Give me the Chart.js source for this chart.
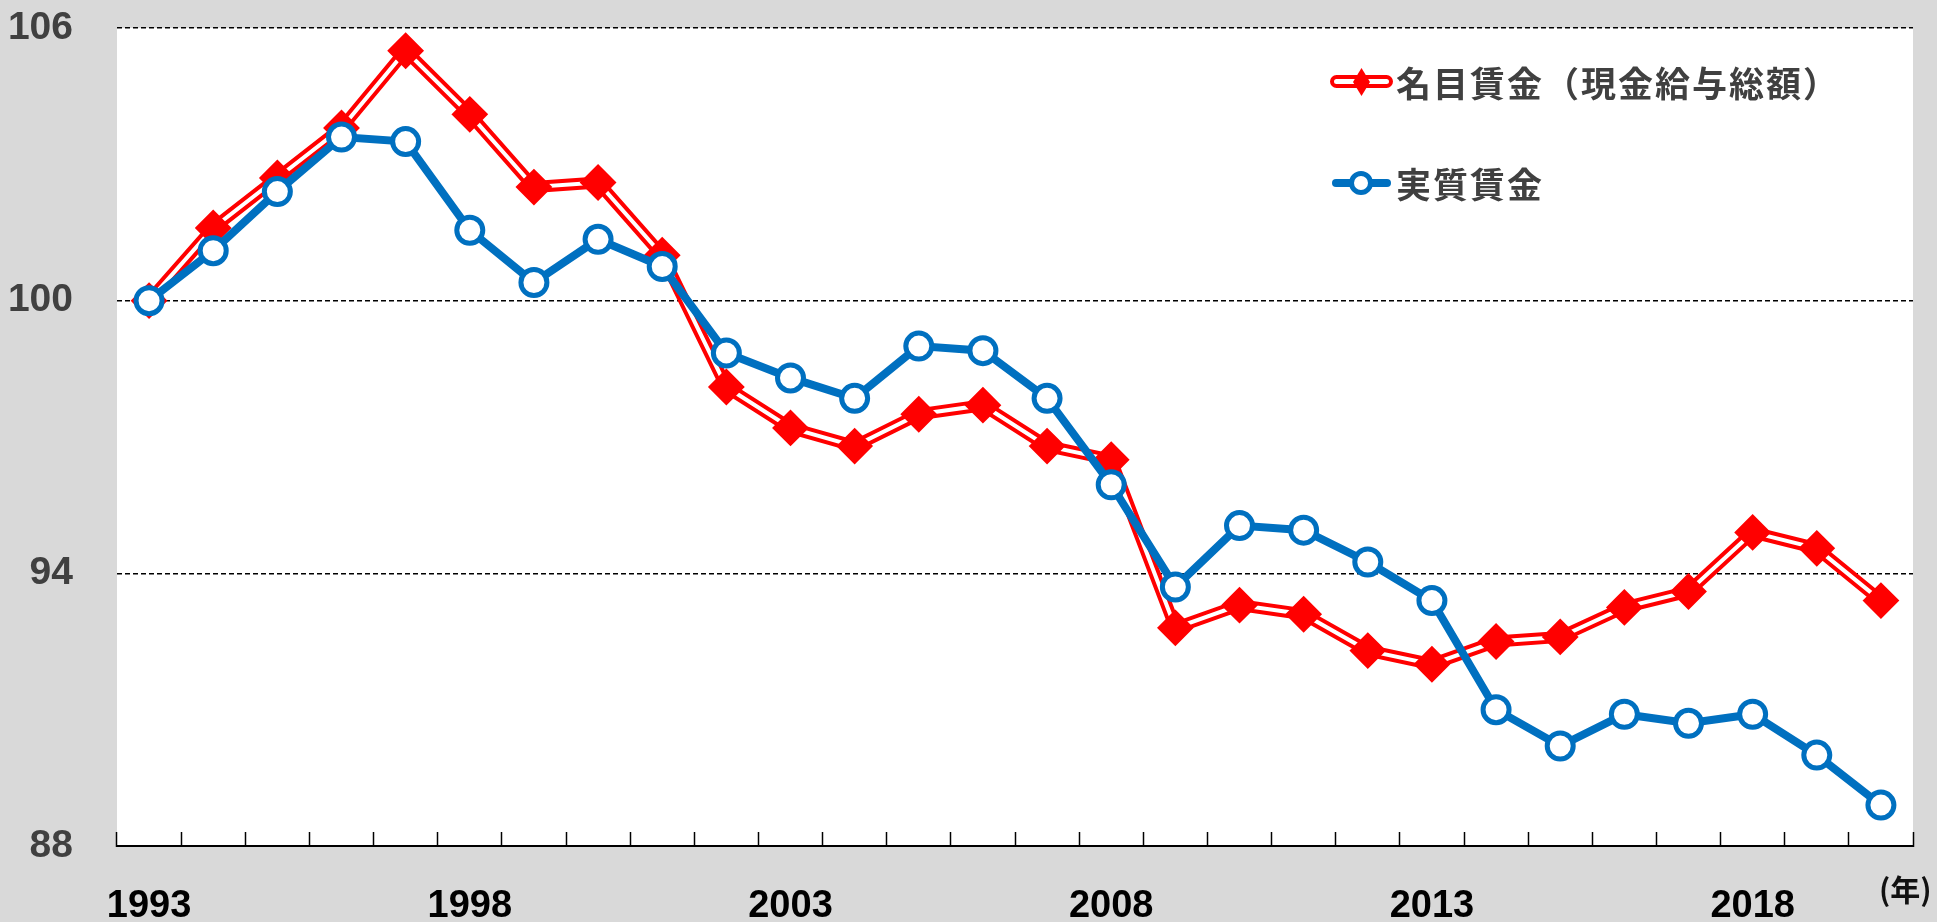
<!DOCTYPE html>
<html>
<head>
<meta charset="utf-8">
<script src="https://cdn.jsdelivr.net/npm/chart.js@4/dist/chart.umd.min.js"></script>
<style>
  body { margin: 0; background: #d9d9d9; }
  #wrap { position: relative; width: 1937px; height: 922px; }
  .leg { position: absolute; height: 50px; line-height: 50px; font-family: "Noto Sans CJK JP", sans-serif; font-weight: bold; font-size: 35px; letter-spacing: 2px; color: #404040; white-space: nowrap; }
  .sym { position: absolute; }
  #unit { position: absolute; left: 1879px; top: 866px; font-family: "Noto Sans CJK JP", sans-serif; font-weight: bold; font-size: 30px; color: #111; }
</style>
</head>
<body>
<div id="wrap">
  <canvas id="wageChart" width="1937" height="922"></canvas>

  <!-- 凡例 -->
  <div class="sym" style="left:1330px; top:75px; width:63px; height:13px; box-sizing:border-box; border:4.5px solid #ff0000; border-radius:7px; background:#fff;"></div>
  <div class="sym" style="left:1353px; top:68px; width:17px; height:28px; background:#ff0000; clip-path:polygon(50% 0,100% 50%,50% 100%,0 50%);"></div>
  <div class="leg" id="leg1" style="left:1396px; top:57px;"></div>

  <div class="sym" style="left:1332px; top:179px; width:59px; height:8px; border-radius:4px; background:#0070c0;"></div>
  <div class="sym" style="left:1349px; top:171px; width:24px; height:24px; box-sizing:border-box; border:5px solid #0070c0; border-radius:50%; background:#fff;"></div>
  <div class="leg" id="leg2" style="left:1396px; top:158px;"></div>

  <div id="unit">(年)</div>
</div>

<script>
// 年
const years = ['1993','1994','1995','1996','1997','1998','1999','2000','2001','2002',
               '2003','2004','2005','2006','2007','2008','2009','2010','2011','2012',
               '2013','2014','2015','2016','2017','2018','2019','2020'];
const shownYears = ['1993','1998','2003','2008','2013','2018'];

// 名目賃金（現金給与総額）
const nominalWage = [100, 101.6, 102.7, 103.8, 105.5, 104.1, 102.5, 102.6, 101.0, 98.1,
                     97.2, 96.8, 97.5, 97.7, 96.8, 96.5, 92.8, 93.3, 93.1, 92.3,
                     92.0, 92.5, 92.6, 93.25, 93.6, 94.9, 94.55, 93.4];
// 実質賃金
const realWage = [100, 101.1, 102.4, 103.6, 103.5, 101.55, 100.4, 101.35, 100.75, 98.85,
                  98.3, 97.85, 99.0, 98.9, 97.85, 95.95, 93.7, 95.05, 94.95, 94.25,
                  93.4, 91.0, 90.2, 90.9, 90.7, 90.9, 90.0, 88.9];

const yTicks = [88, 94, 100, 106];
const seriesNames = ['名目賃金（現金給与総額）', '実質賃金'];

document.getElementById('leg1').textContent = seriesNames[0];
document.getElementById('leg2').textContent = seriesNames[1];

// vùng vẽ màu trắng
const plotBg = {
    id: 'plotBg',
    beforeDraw(chart) {
        const a = chart.chartArea;
        const c = chart.ctx;
        c.save();
        c.fillStyle = '#ffffff';
        c.fillRect(a.left, a.top, a.right - a.left, a.bottom - a.top);
        c.restore();
    }
};

const ctx = document.getElementById('wageChart').getContext('2d');
const wageChart = new Chart(ctx, {
    type: 'line',
    data: {
        labels: years,
        datasets: [{
            label: seriesNames[1],
            data: realWage,
            order: 0,
            borderColor: '#0070c0',
            borderWidth: 8,
            pointRadius: 13,
            pointBorderWidth: 5,
            pointBackgroundColor: '#ffffff',
            pointBorderColor: '#0070c0',
            tension: 0
        }, {
            // đường trắng ở giữa + điểm hình thoi
            label: seriesNames[0],
            data: nominalWage,
            order: 1,
            borderColor: '#ffffff',
            borderWidth: 4,
            pointStyle: 'rectRot',
            pointRadius: 17,
            pointBorderWidth: 2,
            pointBackgroundColor: '#ff0000',
            pointBorderColor: '#ff0000',
            tension: 0
        }, {
            // viền đỏ
            label: seriesNames[0] + ' outline',
            data: nominalWage,
            order: 2,
            borderColor: '#ff0000',
            borderWidth: 12,
            pointRadius: 0,
            tension: 0
        }]
    },
    options: {
        responsive: false,
        animation: false,
        events: [],
        layout: { padding: { top: 28, right: 24, left: 0, bottom: 0 } },
        plugins: {
            legend: { display: false },
            tooltip: { enabled: false }
        },
        scales: {
            x: {
                offset: true,
                grid: {
                    offset: true,
                    drawOnChartArea: false,
                    drawTicks: true,
                    tickLength: -14,
                    tickColor: '#000000',
                    tickWidth: 1.5
                },
                border: { display: true, color: '#000000', width: 2 },
                ticks: {
                    autoSkip: false,
                    maxRotation: 0,
                    padding: 52,
                    color: '#000000',
                    font: { family: '"Liberation Sans", Arial, sans-serif', size: 38, weight: 'bold' },
                    callback: function (val, i) {
                        return shownYears.includes(years[i]) ? years[i] : '';
                    }
                },
                afterFit: function (scale) { scale.height = 76; }
            },
            y: {
                min: 88,
                max: 106,
                afterBuildTicks: function (scale) {
                    scale.ticks = yTicks.map(v => ({ value: v }));
                },
                grid: {
                    drawTicks: false,
                    lineWidth: 1.5,
                    color: function (c) {
                        return c.tick && c.tick.value === 88 ? 'rgba(0,0,0,0)' : '#000000';
                    }
                },
                border: { display: false, dash: [5, 3] },
                ticks: {
                    padding: 44,
                    color: '#404040',
                    font: { family: '"Liberation Sans", Arial, sans-serif', size: 39, weight: 'bold' }
                },
                afterFit: function (scale) {
                    scale.width = 117;
                    scale.paddingTop = 0;
                    scale.paddingBottom = 0;
                }
            }
        }
    },
    plugins: [plotBg]
});
</script>
</body>
</html>
